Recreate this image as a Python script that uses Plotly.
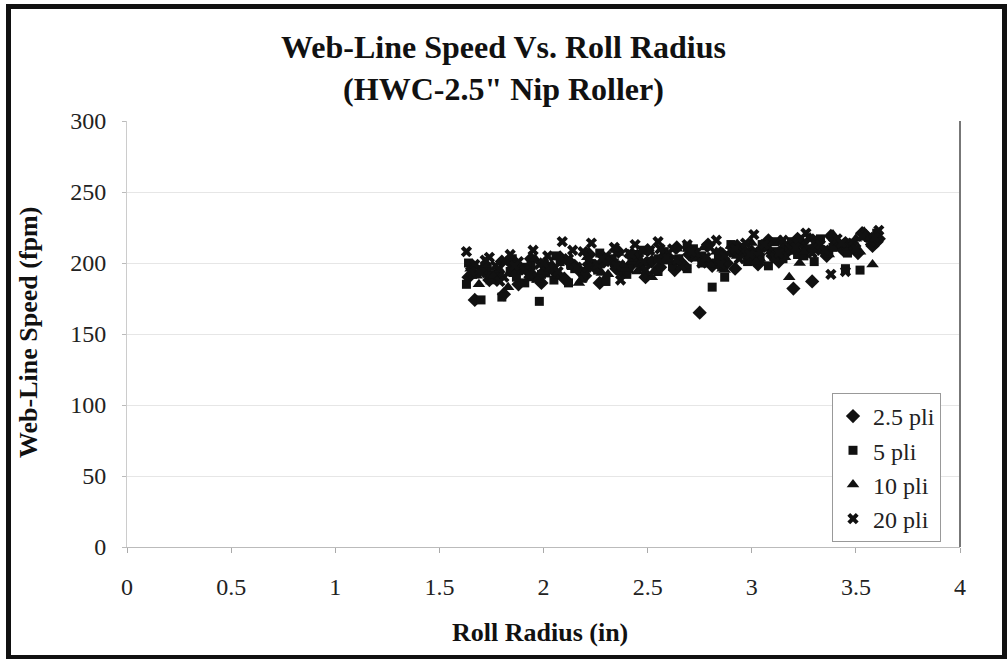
import plotly.graph_objects as go

# ---- data ----
x_25 = [1.64, 1.67, 1.71, 1.74, 1.78, 1.81, 1.85, 1.88, 1.92, 1.95, 1.99, 2.02, 2.06, 2.10, 2.13, 2.17, 2.20, 2.24, 2.27, 2.31,
        2.35, 2.38, 2.42, 2.45, 2.49, 2.52, 2.56, 2.60, 2.63, 2.67, 2.70, 2.75, 2.78, 2.81, 2.85, 2.88, 2.92, 2.95, 2.99, 3.03,
        3.06, 3.10, 3.13, 3.17, 3.20, 3.24, 3.29, 3.32, 3.36, 3.40, 3.44, 3.47, 3.51, 3.55, 3.58, 3.61,
        1.66, 1.73, 1.80, 1.87, 1.94, 2.01, 2.08, 2.15, 2.22, 2.29, 2.36, 2.43, 2.50, 2.57, 2.64, 2.71, 2.79, 2.86, 2.93, 3.00,
        3.08, 3.15, 3.22, 3.30, 3.38, 3.45, 3.53, 3.60]
y_25 = [190, 174, 196, 188, 193, 178, 199, 185, 195, 191, 186, 197, 193, 189, 200, 195, 191, 198, 186, 202,
        196, 193, 199, 205, 190, 201, 197, 204, 195, 199, 206, 165, 202, 198, 207, 200, 196, 209, 203, 199,
        212, 205, 201, 208, 182, 214, 187, 210, 205, 216, 209, 213, 207, 219, 212, 217,
        198, 193, 201, 196, 203, 195, 204, 198, 206, 201, 208, 200, 209, 203, 211, 205, 213, 206, 212, 208,
        216, 210, 217, 211, 219, 214, 221, 215]

x_5 = [1.63, 1.66, 1.70, 1.73, 1.77, 1.80, 1.84, 1.87, 1.91, 1.94, 1.98, 2.01, 2.05, 2.08, 2.12, 2.15, 2.19, 2.22, 2.26, 2.30,
       2.33, 2.37, 2.40, 2.44, 2.47, 2.51, 2.55, 2.58, 2.62, 2.65, 2.69, 2.72, 2.76, 2.81, 2.84, 2.87, 2.91, 2.94, 2.98, 3.01,
       3.05, 3.08, 3.12, 3.15, 3.19, 3.22, 3.26, 3.30, 3.33, 3.37, 3.41, 3.45, 3.48, 3.52, 3.56, 3.60,
       1.64, 1.71, 1.78, 1.85, 1.92, 1.99, 2.06, 2.13, 2.20, 2.27, 2.34, 2.41, 2.48, 2.55, 2.62, 2.69, 2.76, 2.83, 2.90, 2.97,
       3.04, 3.11, 3.18, 3.25, 3.32, 3.39, 3.46, 3.54]
y_5 = [185, 192, 174, 197, 189, 176, 194, 190, 186, 198, 173, 193, 188, 201, 186, 196, 190, 199, 195, 187,
       203, 198, 192, 206, 197, 201, 194, 208, 199, 203, 196, 210, 200, 183, 204, 190, 207, 211, 201, 205,
       213, 198, 208, 203, 215, 206, 210, 201, 217, 208, 212, 196, 214, 195, 218, 221,
       200, 195, 190, 203, 197, 192, 205, 199, 194, 207, 200, 196, 209, 203, 198, 211, 205, 200, 213, 207,
       203, 215, 209, 205, 216, 211, 207, 219]

x_10 = [1.65, 1.68, 1.72, 1.75, 1.79, 1.82, 1.86, 1.89, 1.93, 1.96, 2.00, 2.04, 2.07, 2.11, 2.14, 2.18, 2.21, 2.25, 2.28, 2.32,
        2.36, 2.39, 2.43, 2.46, 2.50, 2.53, 2.57, 2.61, 2.64, 2.68, 2.71, 2.74, 2.77, 2.80, 2.83, 2.86, 2.90, 2.93, 2.97, 3.00,
        3.04, 3.07, 3.11, 3.14, 3.18, 3.21, 3.25, 3.28, 3.31, 3.35, 3.39, 3.42, 3.46, 3.50, 3.54, 3.58,
        1.69, 1.76, 1.83, 1.90, 1.97, 2.03, 2.10, 2.17, 2.24, 2.31, 2.38, 2.45, 2.52, 2.59, 2.66, 2.73, 2.80, 2.87, 2.94, 3.02,
        3.09, 3.16, 3.23, 3.31, 3.37, 3.44, 3.52, 3.59]
y_10 = [196, 191, 199, 187, 195, 201, 192, 197, 189, 203, 194, 199, 191, 202, 197, 188, 204, 199, 193, 201,
        207, 196, 203, 199, 208, 194, 205, 201, 210, 198, 206, 203, 211, 200, 208, 196, 212, 205, 209, 214,
        203, 210, 206, 216, 190, 211, 208, 218, 213, 209, 220, 214, 211, 217, 222, 199,
        185, 191, 183, 194, 188, 196, 190, 186, 197, 192, 199, 194, 190, 201, 197, 204, 199, 195, 206, 201,
        208, 204, 200, 211, 206, 213, 208, 216]

x_20 = [1.63, 1.67, 1.70, 1.74, 1.77, 1.81, 1.84, 1.88, 1.91, 1.95, 1.98, 2.02, 2.05, 2.09, 2.12, 2.16, 2.19, 2.23, 2.26, 2.30,
        2.34, 2.37, 2.41, 2.44, 2.48, 2.51, 2.55, 2.59, 2.62, 2.66, 2.69, 2.73, 2.76, 2.80, 2.83, 2.87, 2.90, 2.94, 2.97, 3.01,
        3.04, 3.08, 3.11, 3.15, 3.19, 3.22, 3.26, 3.29, 3.33, 3.38, 3.41, 3.45, 3.49, 3.53, 3.57, 3.61,
        1.65, 1.72, 1.79, 1.86, 1.93, 2.00, 2.07, 2.14, 2.21, 2.28, 2.35, 2.42, 2.49, 2.56, 2.64, 2.71, 2.78, 2.85, 2.92, 2.99,
        3.06, 3.13, 3.21, 3.28, 3.35, 3.43, 3.50, 3.59]
y_20 = [208, 199, 193, 204, 198, 190, 206, 201, 195, 209, 199, 205, 196, 215, 203, 197, 208, 214, 199, 205,
        211, 188, 207, 213, 201, 209, 215, 204, 210, 198, 213, 207, 200, 211, 216, 205, 209, 203, 214, 220,
        208, 212, 204, 216, 210, 214, 221, 207, 213, 192, 217, 194, 212, 219, 215, 223,
        194, 202, 187, 198, 192, 200, 194, 209, 197, 203, 198, 206, 195, 210, 202, 208, 204, 199, 210, 206,
        213, 207, 211, 217, 209, 214, 210, 218]

series_names = ["2.5 pli", "5 pli", "10 pli", "20 pli"]
x_ticks = [0, 0.5, 1, 1.5, 2, 2.5, 3, 3.5, 4]
y_ticks = [0, 50, 100, 150, 200, 250, 300]

FONT = "Liberation Serif, Times New Roman, serif"

W, H = 1007, 659
L, R, T, B = 127, 960, 121, 547  # plot-area edges in pixels


def px(xp):
    return (xp - L) / (R - L)


def py(yp):
    return (B - yp) / (B - T)


fig = go.Figure()
symbols = ["diamond", "square", "triangle-up", "x"]
sizes = [11, 9, 11, 10]
for xs, ys, sym, sz, name in zip([x_25, x_5, x_10, x_20], [y_25, y_5, y_10, y_20],
                                 symbols, sizes, series_names):
    fig.add_trace(go.Scatter(x=xs, y=ys, mode="markers", name=name, legendgroup=name,
                             marker=dict(symbol=sym, size=sz, color="#111111",
                                         line=dict(width=0))))

fig.update_layout(
    width=W, height=H,
    margin=dict(l=L, r=W - R, t=T, b=H - B),
    paper_bgcolor="white", plot_bgcolor="white",
    font=dict(family=FONT, size=24, color="#222222"),
    title=dict(text="<b>Web-Line Speed Vs. Roll Radius<br>(HWC-2.5\" Nip Roller)</b>",
               x=0.5, xanchor="center", xref="container",
               y=1 - 58 / H, yanchor="top", yref="container",
               font=dict(family=FONT, size=32, color="#111111")),
    showlegend=True,
    legend=dict(x=px(832), xanchor="left", y=py(542), yanchor="bottom",
                bgcolor="white", bordercolor="#999999", borderwidth=1,
                font=dict(family=FONT, size=24, color="#222222"),
                tracegroupgap=0, itemwidth=30),
    xaxis=dict(range=[0, 4], tickmode="array", tickvals=x_ticks,
               ticktext=[str(v) for v in x_ticks],
               showgrid=False, zeroline=False,
               showline=True, linecolor="#bbbbbb", linewidth=1,
               ticks="outside", ticklen=5, tickcolor="#aaaaaa",
               ticklabelstandoff=13),
    yaxis=dict(range=[0, 300], tickmode="array", tickvals=y_ticks,
               ticktext=[str(v) for v in y_ticks],
               showgrid=True, gridcolor="#e6e6e6", gridwidth=1,
               zeroline=False,
               showline=True, linecolor="#cccccc", linewidth=1,
               ticks="outside", ticklen=4, tickcolor="#bbbbbb",
               ticklabelstandoff=11),
)

# axis titles
fig.add_annotation(text="<b>Roll Radius (in)</b>", xref="paper", yref="paper",
                   x=px(540), y=py(632), showarrow=False,
                   font=dict(family=FONT, size=26, color="#111111"),
                   xanchor="center", yanchor="middle")
fig.add_annotation(text="<b>Web-Line Speed (fpm)</b>", xref="paper", yref="paper",
                   x=px(28), y=py(333), showarrow=False, textangle=-90,
                   font=dict(family=FONT, size=26, color="#111111"),
                   xanchor="center", yanchor="middle")

# right border of plot area
fig.add_shape(type="line", xref="paper", yref="paper", x0=1, x1=1, y0=0, y1=1,
              line=dict(color="#777777", width=2))
# outer frame
fig.add_shape(type="rect", xref="paper", yref="paper",
              x0=px(8.5), x1=px(1004.5), y0=py(657.5), y1=py(6.5),
              line=dict(color="#111111", width=5), fillcolor="rgba(0,0,0,0)")

fig.write_html("out.html", config={"displayModeBar": False},
               post_script="document.body.style.margin='0';document.body.style.overflow='hidden';")
